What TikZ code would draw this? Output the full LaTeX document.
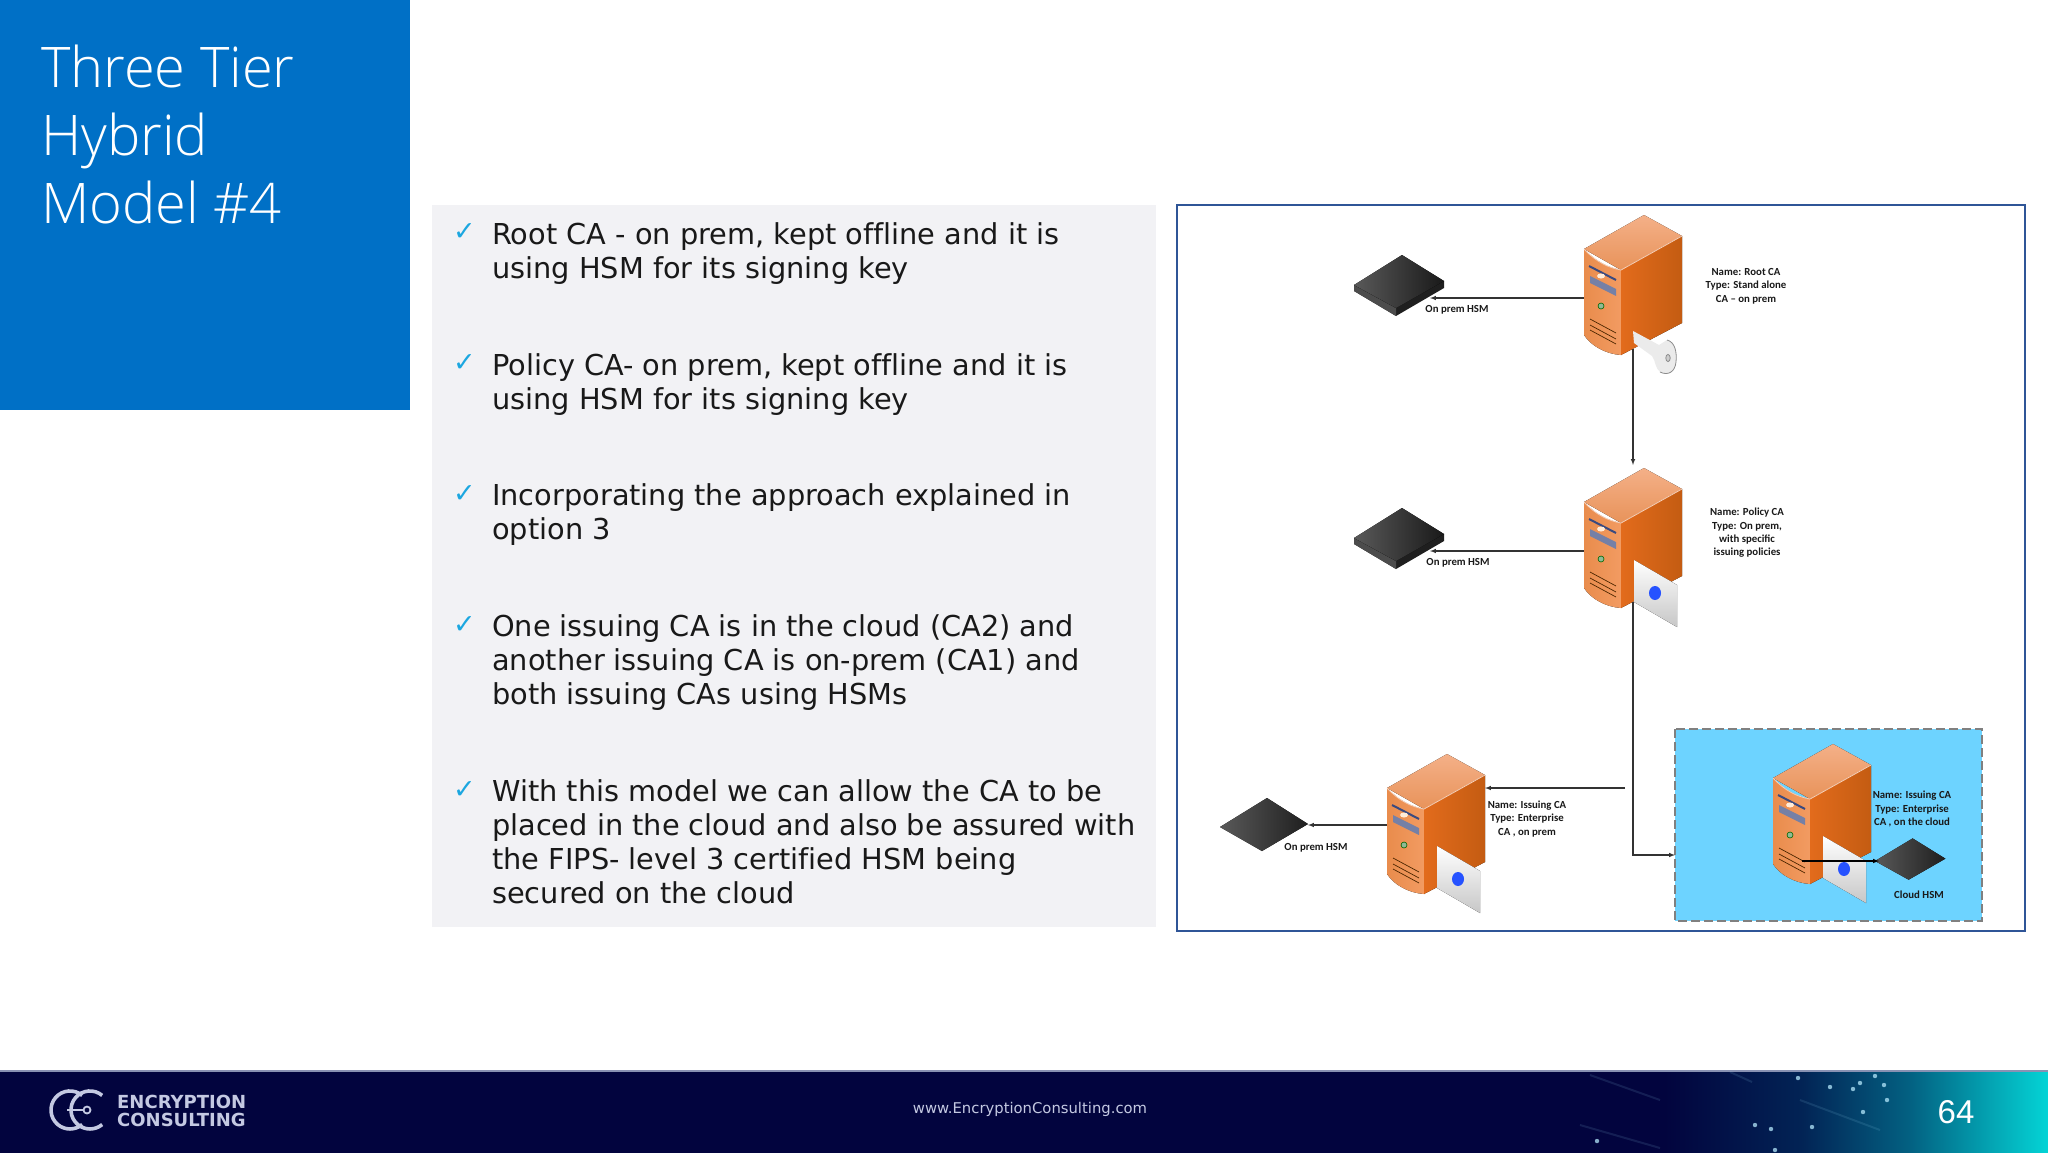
\documentclass[tikz,border=0pt]{standalone}
\usepackage{fontspec}
\setmainfont[Ligatures=NoCommon]{DejaVu Sans}
\newfontfamily\titlefont{Open Sans Light}
\newfontfamily\labelfont{Carlito}
\newfontfamily\numfont{Liberation Sans}
\usetikzlibrary{positioning,arrows}

\definecolor{tierblue}{HTML}{0070C6}
\definecolor{panelgrey}{HTML}{F2F2F5}
\definecolor{framecol}{HTML}{2F5597}
\definecolor{cloudcol}{HTML}{6DD3FF}
\definecolor{checkcol}{HTML}{1CA7E0}
\definecolor{navycol}{HTML}{02043E}
\definecolor{tealcol}{HTML}{04D4D6}
\definecolor{slatecol}{HTML}{3A4A80}
\definecolor{logocol}{HTML}{C4C9E2}
\definecolor{topa}{HTML}{F4B088}
\definecolor{topb}{HTML}{E8935A}
\definecolor{fronta}{HTML}{E98C4C}
\definecolor{frontb}{HTML}{F29B62}
\definecolor{sidea}{HTML}{E26B1C}
\definecolor{sideb}{HTML}{C45C12}
\definecolor{ledcol}{HTML}{8FB996}

\pgfdeclarehorizontalshading{footglow}{100bp}{
  color(0bp)=(navycol); color(40bp)=(navycol); color(52.5bp)=(navycol!85!tealcol);
  color(62.5bp)=(navycol!55!tealcol); color(75bp)=(tealcol); color(100bp)=(tealcol)}

\tikzset{
  server/.pic={
    \fill[top color=topa,bottom color=topb] (-37,-21) -- (23,-55) -- (61,-34) -- (0,0) -- cycle;
    \fill[left color=fronta,right color=frontb] (-37,-21) .. controls (-25,-8) and (-12,-2) .. (0,0) -- (0,85) .. controls (-15,84) and (-30,76) .. (-37,65) -- cycle;
    \fill[left color=sidea,right color=sideb] (0,0) -- (61,-34) -- (61,53) -- (0,85) -- cycle;
    \draw[topa!60!white,line width=.8] (-37,-21) .. controls (-25,-8) and (-12,-2) .. (0,0) -- (61,-34);
    \draw[slatecol,line width=2] (-32,-4) -- (-5,10);
    \fill[white!85!orange] (-20,6) ellipse (4 and 2.5);
    \fill[slatecol!70!white] (-31,6) -- (-5,19) -- (-5,26) -- (-31,13) -- cycle;
    \draw[black!60!green,line width=.6,fill=ledcol] (-20,36) circle (3);
    \foreach \v in {49,55,60}
      \draw[black!70!orange,line width=.7] (-31,\v) -- (-5,\v+14);
    \coordinate (-origin) at (0,0);
    \coordinate (-west) at (-37,28);
    \coordinate (-port) at (-37,16);
    \coordinate (-vent) at (-8,62);
    \coordinate (-south) at (12,79);
    \coordinate (-north) at (12,-58);
    \coordinate (-east) at (61,-21);
  },
  certcard/.pic={
    \fill[top color=white,bottom color=black!22] (13,37) -- (56,62) -- (56,104) -- (13,79) -- cycle;
    \fill[blue!80!cyan!85!white] (34,70) ellipse (6 and 7);
  },
  hsmslab/.pic={
    \fill[black!88] (-45,0) -- (-45,6) -- (-3,31) -- (45,3) -- (45,-4) -- cycle;
    \fill[black!70] (-3,23) -- (-3,31) -- (-45,6) -- (-45,0) -- cycle;
    \fill[left color=black!65,right color=black!90] (-45,0) -- (3,-30) -- (45,-4) -- (-3,23) -- cycle;
    \coordinate (-east) at (31,12);
  },
  hsmflat/.pic={
    \fill[left color=black!65,right color=black!88] (-45,0) -- (2,-29) -- (43,-3) -- (-3,24) -- cycle;
    \coordinate (-east) at (43,-2);
    \coordinate (-west) at (-40,0);
  },
  conn/.style={black!80,line width=1.05,-latex},
  tag/.style={font=\labelfont\bfseries\fontsize{10.8}{13.4}\selectfont,align=center,text=black!90,inner sep=0},
  point/.style={anchor=base west,align=left,inner sep=0,font=\fontsize{28.8}{34}\selectfont,text=black!90},
  tick/.style={anchor=base west,inner sep=0,font=\fontsize{27}{27}\selectfont,text=checkcol},
}

\begin{document}
\begin{tikzpicture}[x=1pt,y=-1pt,>=latex]
\useasboundingbox (0,0) rectangle (2048,1152);
% left column
\fill[tierblue] (0,0) rectangle (410,410);
\node[anchor=base west,align=left,inner sep=0,text=white,font=\titlefont\fontsize{56}{68}\selectfont] (title) at (41,223) {Three Tier\\Hybrid\\Model \#4};
\fill[panelgrey] (432,205) rectangle (1156,927);

\node[tick] (t1) at (453,240) {✓};
\node[point] (p1) at (492,278) {Root CA - on prem, kept offline and it is\\using HSM for its signing key};
\node[tick] (t2) at (453,371) {✓};
\node[point] (p2) at (492,409) {Policy CA- on prem, kept offline and it is\\using HSM for its signing key};
\node[tick] (t3) at (453,502) {✓};
\node[point] (p3) at (492,539) {Incorporating the approach explained in\\option 3};
\node[tick] (t4) at (453,633) {✓};
\node[point] (p4) at (492,704) {One issuing CA is in the cloud (CA2) and\\another issuing CA is on-prem (CA1) and\\both issuing CAs using HSMs};
\node[tick] (t5) at (453,798) {✓};
\node[point] (p5) at (492,903) {With this model we can allow the CA to be\\placed in the cloud and also be assured with\\the FIPS- level 3 certified HSM being\\secured on the cloud};

% diagram
\draw[framecol,line width=2.4] (1177,205) rectangle (2025,931);
\draw[fill=cloudcol,draw=black!50,line width=1.6,dash pattern=on 9 off 4] (1675,729) rectangle (1982,921);

\pic (rootca) at (1621,270) {server};
\pic (policyca) at (1621,523) {server};
\pic (issueca) at (1424,809) {server};
\pic (cloudca) at (1810,799) {server};

% key
\fill[black!8] (1633,331) -- (1659,345) -- (1667,340) .. controls (1675,342) and (1677,352) .. (1676,362) .. controls (1675,372) and (1668,376) .. (1660,372) .. controls (1655,368) and (1656,362) .. (1652,356) -- (1634,343) -- cycle;
\draw[black!45,line width=.8] (1667,340) .. controls (1675,342) and (1677,352) .. (1676,362) .. controls (1675,372) and (1668,376) .. (1660,372);
\draw[black!45,line width=.8,fill=black!20] (1668,358) ellipse (2.2 and 3.6);

\pic at (policyca-origin) {certcard};
\pic at (issueca-origin) {certcard};
\pic at (cloudca-origin) {certcard};

\pic (hsma) at (1399,285) {hsmslab};
\pic (hsmb) at (1399,538) {hsmslab};
\pic (hsmc) at (1265,827) {hsmflat};
\pic[xscale=.8,yscale=.78] (hsmd) at (1911,861) {hsmflat};

\node[tag] (hsmatag) at (1457,310) {On prem HSM};
\node[tag] (hsmbtag) at (1458,563) {On prem HSM};
\node[tag] (hsmctag) at (1316,848) {On prem HSM};
\node[tag] (hsmdtag) at (1919,895) {Cloud HSM};
\node[tag] (roottag) at (1746,286) {Name: Root CA\\Type: Stand alone\\CA – on prem};
\node[tag] (policytag) at (1747,533) {Name: Policy CA\\Type: On prem,\\with specific\\issuing policies};
\node[tag] (issuetag) at (1527,819) {Name: Issuing CA\\Type: Enterprise\\CA , on prem};
\node[tag] (cloudtag) at (1912,809) {Name: Issuing CA\\Type: Enterprise\\CA , on the cloud};

\coordinate (drop) at (1633,855);
\coordinate (feed) at (1625,788);
\coordinate (cloudin) at (1675,855);
\draw[conn] (rootca-west) -- (rootca-west -| hsma-east);
\draw[conn] (rootca-south) -- (policyca-north);
\draw[conn] (policyca-west) -- (policyca-west -| hsmb-east);
\draw[conn] (policyca-south) -- (drop) -- (cloudin);
\draw[conn] (feed) -- (issueca-east);
\draw[conn] (issueca-port) -- (hsmc-east);
\draw[black,line width=1.05,-latex] (cloudca-vent) -- (hsmd-west);

% footer
\fill[navycol] (0,1071) rectangle (2048,1153);
\shade[shading=footglow] (1500,1071) rectangle (2048,1153);
\fill[slatecol!60!white] (0,1070) rectangle (2048,1072);
\foreach \ax/\ay/\bx/\by in {1590/1075/1660/1100,1730/1072/1752/1082,1580/1125/1660/1148,1800/1100/1880/1130}
  \draw[white!60!cyan,opacity=.12,line width=2] (\ax,\ay) -- (\bx,\by);
\foreach \sx/\sy in {1798/1078,1830/1087,1853/1089,1860/1083,1875/1076,1884/1085,1887/1100,1863/1112,1755/1125,1771/1129,1812/1127,1775/1150,1597/1141}
  \fill[white!70!cyan,opacity=.75] (\sx,\sy) circle (2.2);

\draw[logocol,line width=3.6] (82.2,1095.4) arc (-50:-310:19);
\draw[logocol,line width=3.6] (102.2,1095.4) arc (-50:-310:19);
\draw[logocol,line width=1.8] (67,1110) -- (84,1110);
\draw[logocol,line width=1.8] (87,1110) circle (3.5);
\node[anchor=west,align=left,inner sep=0,text=logocol,font=\bfseries\fontsize{18}{18.5}\selectfont] (brand) at (117,1111) {ENCRYPTION\\CONSULTING};
\node[inner sep=0,text=logocol,font=\fontsize{14.8}{16}\selectfont] (site) at (1030,1109) {www.EncryptionConsulting.com};
\node[inner sep=0,text=white,font=\numfont\fontsize{33}{36}\selectfont] (pageno) at (1956,1112) {64};
\end{tikzpicture}
\end{document}
